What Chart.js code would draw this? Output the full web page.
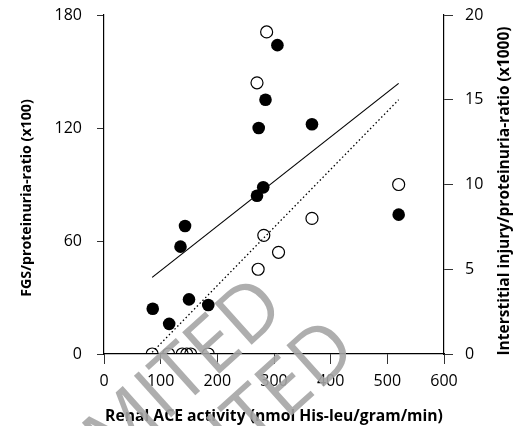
<!DOCTYPE html>
<html><head><meta charset="utf-8">
<script src="https://cdn.jsdelivr.net/npm/chart.js@4.4.1/dist/chart.umd.min.js"></script>
<style>html,body{margin:0;padding:0;background:#fff}#wrap{width:520px;height:426px}</style>
</head><body><div id="wrap"><canvas id="c" width="520" height="426"></canvas></div>
<script>
// Filled circles: FGS/proteinuria ratio (left axis)
const aceFgs   = [86, 115, 135, 143, 150, 184, 270, 273, 281, 285, 306, 367, 520];
const fgsRatio = [24, 16, 57, 68, 29, 26, 84, 120, 88.5, 135, 164, 122, 74];
// Open circles: interstitial injury/proteinuria ratio (right axis)
const aceInj   = [85, 114, 138, 146, 153, 184, 270, 272, 282, 287, 308, 367, 520];
const injRatio = [0, 0, 0, 0, 0, 0, 16, 5, 7, 19, 6, 8, 10];
// Regression lines (end points)
const fitX   = [85, 520];
const fgsFit = [40.7, 143.7];
const injFit = [0.1, 15.0];
// Tick labels
const xTicks     = [0, 100, 200, 300, 400, 500, 600];
const leftTicks  = [0, 60, 120, 180];
const rightTicks = [0, 5, 10, 15, 20];

const FAMILY = '"Open Sans", "Noto Sans", sans-serif';
const toPts = (xs, ys) => xs.map((x, i) => ({x: x, y: ys[i]}));

// vertical axis titles read bottom-to-top on both sides
function verticalTitle(scale, cx, cy) {
  const ctx = scale.ctx;
  const t = scale.options.title;
  const f = Chart.helpers.toFont(t.font);
  ctx.save();
  ctx.translate(cx, cy);
  ctx.rotate(-Math.PI / 2);
  ctx.fillStyle = t.color;
  ctx.font = f.string;
  ctx.textAlign = 'center';
  ctx.textBaseline = 'middle';
  ctx.fillText(t.text, 0, 0);
  ctx.restore();
}

const titlePlacer = {
  id: 'titlePlacer',
  beforeDraw(chart) {
    const y = chart.scales.y, y2 = chart.scales.y2;
    y.drawTitle = function () { verticalTitle(this, 27, 198); };
    y2.drawTitle = function () { verticalTitle(this, 505, 191); };
  }
};

const watermark = {
  id: 'watermark',
  afterDraw(chart) {
    const ctx = chart.ctx;
    ctx.save();
    ctx.fillStyle = 'rgba(165,165,165,0.9)';
    ctx.font = '400 78px "Open Sans", sans-serif';
    ctx.textAlign = 'right';
    ctx.textBaseline = 'alphabetic';
    [[288, 312], [360, 354]].forEach(p => {
      ctx.save();
      ctx.translate(p[0], p[1]);
      ctx.rotate(-42 * Math.PI / 180);
      ctx.fillText('LIMITED', 0, 0);
      ctx.restore();
    });
    ctx.restore();
  }
};

new Chart(document.getElementById('c'), {
  type: 'scatter',
  data: {
    datasets: [
      { label: 'FGS fit', data: toPts(fitX, fgsFit), yAxisID: 'y', showLine: true,
        borderColor: '#000', borderWidth: 1.2, pointRadius: 0, fill: false },
      { label: 'Injury fit', data: toPts(fitX, injFit), yAxisID: 'y2', showLine: true,
        borderColor: '#000', borderWidth: 1.3, borderDash: [1.5, 2.5], pointRadius: 0, fill: false },
      { label: 'FGS/proteinuria-ratio', data: toPts(aceFgs, fgsRatio), yAxisID: 'y',
        pointRadius: 6.3, pointBackgroundColor: '#000', pointBorderColor: '#000', pointBorderWidth: 0 },
      { label: 'Interstitial injury/proteinuria-ratio', data: toPts(aceInj, injRatio), yAxisID: 'y2',
        pointRadius: 6, pointBackgroundColor: 'rgba(0,0,0,0)', pointBorderColor: '#000', pointBorderWidth: 1.2 }
    ]
  },
  options: {
    responsive: false,
    animation: false,
    layout: { padding: { top: 15, left: 0, right: 0, bottom: 0 } },
    plugins: { legend: { display: false }, tooltip: { enabled: false } },
    scales: {
      x: {
        type: 'linear', position: 'bottom', min: 0, max: 600,
        afterBuildTicks: s => { s.ticks = xTicks.map(v => ({value: v})); },
        afterFit: s => { s.height = 72; },
        grid: { drawOnChartArea: false, drawTicks: true, tickLength: 10, color: '#333', lineWidth: 1 },
        border: { display: true, color: '#000', width: 1.2 },
        ticks: { color: '#000', font: { family: FAMILY, size: 16 }, padding: 8, maxRotation: 0 },
        title: { display: true, text: 'Renal ACE activity (nmol His-leu/gram/min)', color: '#000',
                 font: { family: FAMILY, size: 15.7, weight: 'bold' }, padding: { top: 0, bottom: 0 } }
      },
      y: {
        type: 'linear', position: 'left', min: 0, max: 180,
        afterBuildTicks: s => { s.ticks = leftTicks.map(v => ({value: v})); },
        afterFit: s => { s.width = 104; s.paddingTop = 0; s.paddingBottom = 0; },
        grid: { drawOnChartArea: false, drawTicks: true, tickLength: 7, color: '#333', lineWidth: 1 },
        border: { display: true, color: '#000', width: 1.2 },
        ticks: { color: '#000', font: { family: FAMILY, size: 16 }, padding: 15 },
        title: { display: true, text: 'FGS/proteinuria-ratio (x100)', color: '#000',
                 font: { family: FAMILY, size: 14.2, weight: 'bold' } }
      },
      y2: {
        type: 'linear', position: 'right', min: 0, max: 20,
        afterBuildTicks: s => { s.ticks = rightTicks.map(v => ({value: v})); },
        afterFit: s => { s.width = 76; s.paddingTop = 0; s.paddingBottom = 0; },
        grid: { drawOnChartArea: false, drawTicks: true, tickLength: 9, color: '#333', lineWidth: 1 },
        border: { display: true, color: '#000', width: 1.2 },
        ticks: { color: '#000', font: { family: FAMILY, size: 16 }, padding: 12 },
        title: { display: true, text: 'Interstitial injury/proteinuria-ratio (x1000)', color: '#000',
                 font: { family: FAMILY, size: 15.5, weight: 'bold' } }
      }
    }
  },
  plugins: [titlePlacer, watermark]
});
</script>
</body></html>
